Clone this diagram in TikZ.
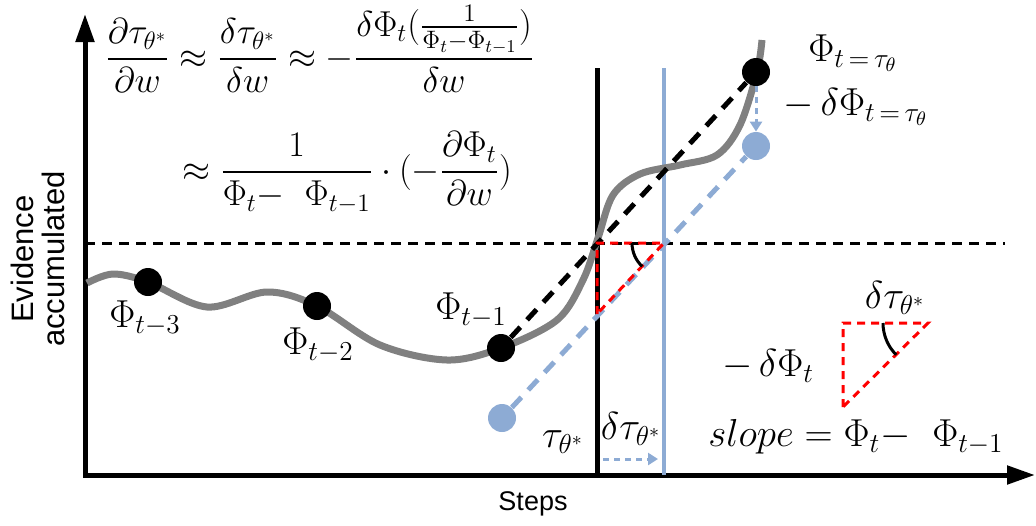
\RequirePackage{fix-cm}
\documentclass[tikz,border=0pt]{standalone}
\usepackage{amsmath,amssymb}
\usepackage{fontspec}
\newfontfamily\axisfont{Liberation Sans}
\usepackage{tikz}
\usetikzlibrary{arrows.meta}
\definecolor{shiftblue}{RGB}{141,171,212}
\definecolor{curvegray}{RGB}{128,128,128}
\tikzset{
  dot/.style={circle, fill=black, inner sep=0pt, minimum size=14pt},
  bluedot/.style={circle, fill=shiftblue, inner sep=0pt, minimum size=14pt},
  axis/.style={line width=2.5pt, {Triangle[length=14pt,width=9pt]}-{Triangle[length=14pt,width=9pt]}},
  curve/.style={curvegray, line width=3.5pt},
  slopeline/.style={line width=2.5pt, dash pattern=on 7pt off 5pt},
  shiftline/.style={shiftblue, line width=2.5pt, dash pattern=on 7pt off 5pt},
  thresh/.style={line width=1.5pt, dash pattern=on 5pt off 3.5pt},
  redtri/.style={red, line width=1.5pt, dash pattern=on 4pt off 3pt},
  anglearc/.style={line width=1.5pt},
  shiftarrow/.style={shiftblue, line width=1.5pt, dash pattern=on 3pt off 2.5pt, -{Triangle[length=5pt,width=6pt]}},
  eq/.style={inner sep=0pt, font=\fontsize{18}{22}\selectfont},
  lbl/.style={inner sep=0pt, font=\fontsize{19.5}{23}\selectfont},
  axislabel/.style={align=center, font=\axisfont\fontsize{15.5}{15.5}\selectfont}
}

\begin{document}
\begin{tikzpicture}[x=0.5pt, y=-0.5pt]
\useasboundingbox (0,0) rectangle (1036,525);

% Axes
\coordinate (ytop) at (85,14);
\coordinate (origin) at (85,475);
\coordinate (xend) at (1035,475);
\draw[axis] (ytop) -- (origin) -- (xend);
\node[axislabel, rotate=90] (ylab) at (38,259) {Evidence\\accumulated};
\node[font=\axisfont\fontsize{13.5}{16}\selectfont] (xlab) at (533,504) {Steps};

% Threshold and step markers
\draw[thresh] (85,243) -- (1005,243);
\draw[line width=2.5pt] (597,68) -- (597,475);
\draw[shiftblue, line width=1.75pt] (664,68) -- (664,475);

% Evidence curve
\draw[curve] plot[smooth, tension=0.55] coordinates {(87,283) (113,274) (148,282) (207,307) (267,292) (317,306) (380,345) (447,360) (501,348) (557,320) (583,280) (598,238) (613,195) (640,174) (680,165) (717,155) (740,125) (757,72) (762,40)};

% Samples
\node[dot] (p3) at (148,282) {};
\node[dot] (p2) at (317,306) {};
\node[dot] (p1) at (501,348) {};
\node[dot] (p0) at (756,72) {};
\node[bluedot] (b1) at (502,418) {};
\node[bluedot] (b0) at (756,146) {};
\draw[slopeline] (p1) -- (p0);
\draw[shiftline] (b1) -- (b0);
\draw[shiftarrow] (p0) -- (b0);

% Small triangle at the crossing
\coordinate (c1) at (597,243);
\coordinate (c2) at (664,243);
\coordinate (c3) at (597,314);
\draw[redtri] (c3) -- (c1) -- (c2) -- cycle;
\draw[anglearc] (c2) ++(180:32) arc[start angle=180, end angle=133, radius=32];
\coordinate (s0) at (603,459);
\coordinate (s1) at (658,459);
\draw[shiftarrow] (s0) -- (s1);

% Slope legend
\coordinate (t1) at (843,323);
\coordinate (t2) at (928,323);
\coordinate (t3) at (843,407);
\draw[redtri] (t3) -- (t1) -- (t2) -- cycle;
\draw[anglearc] (t2) ++(180:45) arc[start angle=180, end angle=135, radius=45];

% Labels
\node[lbl] (lp3) at (145,318) {$\Phi_{t-3}$};
\node[lbl] (lp2) at (318,345) {$\Phi_{t-2}$};
\node[lbl] (lp1) at (471,310) {$\Phi_{t-1}$};
\node[lbl] (lp0) at (853,53) {$\Phi_{t\,=\,\tau_\theta}$};
\node[lbl] (ldp) at (856,107) {$-\,\delta\Phi_{t\,=\,\tau_\theta}$};
\node[lbl] (ltau) at (563,442) {$\tau_{\theta^*}$};
\node[lbl] (ldtau) at (631,429) {$\delta\tau_{\theta^*}$};
\node[lbl] (ldtau2) at (895,298) {$\delta\tau_{\theta^*}$};
\node[lbl] (ldphi) at (768,366) {$-\,\delta\Phi_t$};
\node[lbl] (lslope) at (856,437) {$slope=\Phi_t{-}\;\;\Phi_{t-1}$};

% Derivative
\node[eq, anchor=base west] (eq1) at (105,68) {$\dfrac{\partial\tau_{\theta^*}}{\partial w}\approx\dfrac{\delta\tau_{\theta^*}}{\delta w}\approx-\dfrac{\delta\Phi_t(\frac{1}{\Phi_t-\Phi_{t-1}})}{\delta w}$};
\node[eq, anchor=base west] (eq2) at (182,181) {$\approx\dfrac{1}{\Phi_t{-}\;\;\Phi_{t-1}}\cdot(-\dfrac{\partial\Phi_t}{\partial w})$};
\end{tikzpicture}
\end{document}
